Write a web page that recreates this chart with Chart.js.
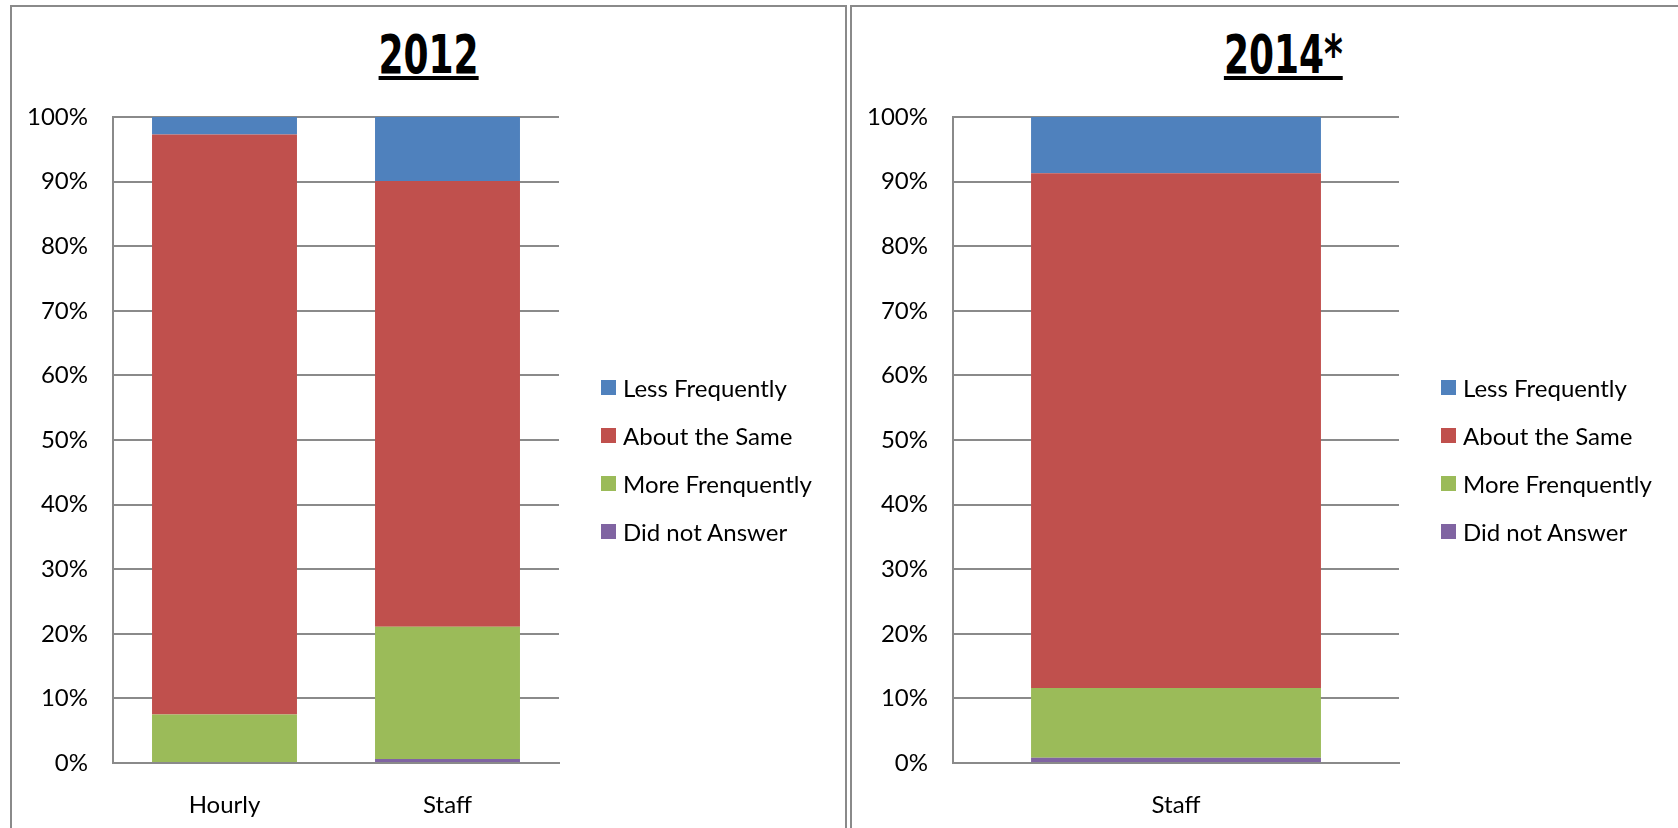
<!DOCTYPE html>
<html>
<head>
<meta charset="utf-8">
<title>2012 vs 2014*</title>
<script src="https://cdn.jsdelivr.net/npm/chart.js"></script>
<style>
  body { margin: 0; background: #fff; overflow: hidden; width: 1678px; height: 828px; position: relative; }
  .panel { position: absolute; top: 5px; width: 833px; height: 900px; border: 2px solid #8a8a8a; background: #fff; }
  .panel canvas { position: absolute; left: 0; top: 0; }
  .title { position: absolute; left: 0; top: 21px; width: 833px; text-align: center; }
  .title span {
    display: inline-block; transform: scaleX(0.74); transform-origin: center;
    font-family: 'DejaVu Sans Condensed', 'Liberation Sans Narrow', sans-serif;
    font-weight: bold; font-size: 54px; line-height: 54px; color: #000;
    text-decoration: underline; text-decoration-thickness: 4px; text-underline-offset: 3px;
  }
  .legend { position: absolute; left: 589px; top: 356px; font-family: Lato, sans-serif; font-size: 24px; color: #000; }
  .legend div { height: 48px; display: flex; align-items: center; white-space: nowrap; }
  .legend span { display: inline-block; width: 15px; height: 15px; margin-right: 7px; }
</style>
</head>
<body>

<div class="panel" style="left:10px">
  <div class="title"><span>2012</span></div>
  <canvas id="chart2012" width="833" height="821"></canvas>
  <div class="legend" id="legend2012"></div>
</div>

<div class="panel" style="left:850px">
  <div class="title" style="left:15px"><span>2014*</span></div>
  <canvas id="chart2014" width="833" height="821"></canvas>
  <div class="legend" id="legend2014"></div>
</div>

<script>
// series listed top to bottom as in the legend
let seriesNames = ['Less Frequently', 'About the Same', 'More Frenquently', 'Did not Answer'];
let seriesColors = ['#4F81BD', '#C0504D', '#9BBB59', '#8064A2'];
let yTicks = [0, 10, 20, 30, 40, 50, 60, 70, 80, 90, 100];

// 2012 (percent)
let cats2012 = ['Hourly', 'Staff'];
let less2012 = [2.7, 9.9];
let same2012 = [89.8, 69.0];
let more2012 = [7.5, 20.5];
let noAns2012 = [0, 0.6];

// 2014 (percent)
let cats2014 = ['Staff'];
let less2014 = [8.7];
let same2014 = [79.7];
let more2014 = [10.8];
let noAns2014 = [0.8];

let gridColor = '#8a8a8a';
let tickFont = { family: 'Lato', size: 24 };

function makeLegend(id) {
  let box = document.getElementById(id);
  seriesNames.forEach((name, i) => {
    let row = document.createElement('div');
    let sw = document.createElement('span');
    sw.style.background = seriesColors[i];
    row.appendChild(sw);
    row.appendChild(document.createTextNode(name));
    box.appendChild(row);
  });
}

function makeChart(id, labels, less, same, more, noAns) {
  let ctx = document.getElementById(id).getContext('2d');
  // stacked from the bottom up
  let values = [noAns, more, same, less];
  let order = [3, 2, 1, 0];
  return new Chart(ctx, {
    type: 'bar',
    data: {
      labels: labels,
      datasets: values.map((v, k) => ({
        label: seriesNames[order[k]],
        data: v,
        backgroundColor: seriesColors[order[k]],
        borderWidth: 0,
        barPercentage: 0.65,
        categoryPercentage: 1
      }))
    },
    options: {
      responsive: false,
      animation: false,
      layout: { padding: { left: 0, top: 110, right: 286, bottom: 0 } },
      plugins: { legend: { display: false }, tooltip: { enabled: false } },
      scales: {
        x: {
          stacked: true,
          grid: { display: false },
          border: { display: true, color: gridColor, width: 2 },
          ticks: { color: '#000', font: tickFont, padding: 20 },
          afterFit: s => { s.height = 65; }
        },
        y: {
          stacked: true,
          min: 0,
          max: 100,
          afterBuildTicks: s => { s.ticks = yTicks.map(v => ({ value: v })); },
          grid: { color: gridColor, lineWidth: 2, drawTicks: false },
          border: { display: true, color: gridColor, width: 2 },
          ticks: { color: '#000', font: tickFont, padding: 25, callback: v => v + '%' },
          afterFit: s => { s.width = 101; }
        }
      }
    }
  });
}

makeLegend('legend2012');
makeLegend('legend2014');
let chart2012 = makeChart('chart2012', cats2012, less2012, same2012, more2012, noAns2012);
let chart2014 = makeChart('chart2014', cats2014, less2014, same2014, more2014, noAns2014);
</script>
</body>
</html>
